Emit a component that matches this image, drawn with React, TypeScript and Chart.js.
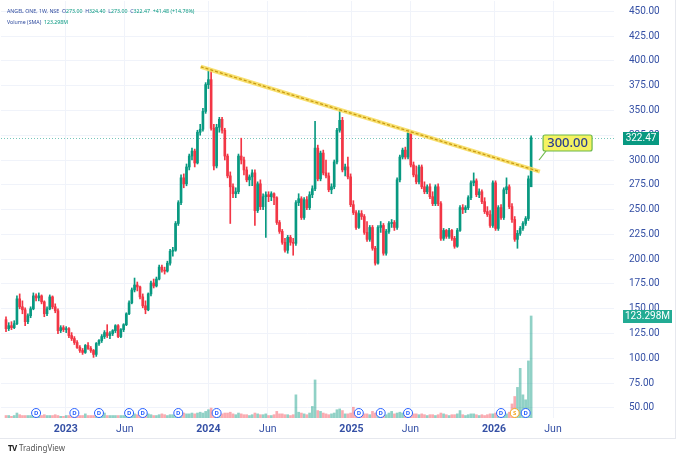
import React, { useEffect, useRef } from "react";
import { Chart, registerables } from "chart.js";

Chart.register(...registerables);

// Weekly candles [open, high, low, close], week 0 = 1 Aug 2022
const candles2022 = [
  [139, 142, 127, 130], [130, 136, 128, 133], [133, 137, 129, 131], [131, 138, 130, 135],
  [135, 163, 134, 160], [160, 165, 150, 152], [152, 158, 145, 149], [149, 151, 133, 137],
  [137, 145, 135, 143], [143, 152, 141, 150], [150, 166, 149, 163], [163, 165, 158, 161],
  [161, 166, 158, 163], [163, 164, 155, 157], [157, 158, 142, 145], [145, 152, 143, 150],
  [150, 164, 149, 162], [162, 163, 150, 152], [152, 155, 146, 148], [148, 150, 125, 128],
  [128, 133, 126, 131], [131, 133, 127, 129],
];
const candles2023 = [
  [129, 132, 126, 130], [130, 131, 121, 123], [123, 126, 118, 120], [120, 122, 114, 116],
  [116, 118, 110, 111], [111, 113, 106, 108], [108, 110, 104, 106], [106, 114, 105, 113],
  [113, 116, 109, 110], [110, 112, 106, 108], [108, 109, 101, 104], [104, 116, 102, 115],
  [115, 119, 113, 118], [118, 124, 116, 122], [122, 128, 120, 126], [126, 134, 121, 123],
  [123, 127, 120, 125], [125, 129, 123, 128], [128, 134, 126, 133], [133, 134, 121, 122],
  [122, 130, 121, 129], [129, 135, 127, 134], [134, 146, 133, 145], [145, 158, 144, 156],
  [156, 171, 155, 169], [169, 181, 167, 174], [174, 177, 168, 172], [172, 173, 160, 162],
  [162, 165, 151, 153], [153, 158, 145, 149], [149, 166, 148, 165], [165, 178, 163, 176],
  [176, 180, 171, 173], [173, 182, 172, 180], [180, 194, 179, 192], [192, 194, 187, 189],
  [189, 192, 185, 188], [188, 198, 187, 196], [196, 210, 194, 208], [208, 212, 203, 209],
  [209, 238, 208, 236], [236, 259, 234, 257], [257, 285, 255, 282], [282, 286, 272, 276],
  [276, 296, 274, 293], [293, 306, 290, 304], [304, 312, 300, 309], [309, 311, 293, 297],
  [297, 330, 296, 328], [328, 336, 325, 331], [331, 352, 329, 349], [349, 378, 347, 376],
];
const candles2024 = [
  [376, 390, 372, 381], [381, 390, 330, 332], [332, 336, 290, 294], [294, 336, 292, 333],
  [333, 343, 328, 341], [341, 343, 327, 330], [330, 332, 300, 304], [304, 306, 282, 284],
  [284, 288, 236, 273], [273, 276, 262, 266], [266, 272, 262, 268], [268, 306, 266, 304],
  [304, 322, 296, 300], [300, 303, 285, 290], [290, 293, 278, 280], [280, 285, 274, 283],
  [283, 290, 274, 287], [287, 290, 234, 249], [249, 278, 247, 276], [276, 280, 250, 253],
  [253, 266, 250, 263], [263, 268, 222, 265], [265, 268, 258, 263], [263, 268, 259, 266],
  [266, 267, 255, 262], [262, 263, 235, 237], [237, 239, 226, 228], [228, 230, 215, 217],
  [217, 221, 207, 209], [209, 224, 206, 222], [222, 224, 214, 217], [217, 221, 204, 216],
  [216, 259, 214, 257], [257, 266, 254, 261], [261, 263, 240, 242], [242, 262, 240, 260],
  [260, 263, 250, 252], [252, 268, 250, 265], [265, 274, 262, 271], [271, 339, 269, 312],
  [312, 315, 279, 281], [281, 309, 279, 307], [307, 310, 285, 287], [287, 300, 282, 284],
  [284, 287, 268, 270], [270, 276, 266, 273], [273, 300, 271, 298], [298, 332, 296, 330],
  [330, 351, 328, 340], [340, 343, 288, 290], [290, 296, 284, 293], [293, 303, 281, 283],
];
const candles2025 = [
  [283, 286, 253, 255], [255, 259, 245, 247], [247, 249, 230, 232], [232, 249, 231, 246],
  [246, 249, 240, 243], [243, 245, 225, 227], [227, 238, 218, 220], [220, 234, 218, 232],
  [232, 234, 209, 211], [211, 213, 194, 196], [196, 234, 195, 232], [232, 238, 227, 234],
  [234, 236, 204, 206], [206, 230, 204, 228], [228, 238, 226, 236], [236, 240, 232, 237],
  [237, 239, 229, 232], [232, 282, 230, 280], [280, 305, 278, 303], [303, 312, 301, 310],
  [310, 313, 301, 303], [303, 331, 301, 327], [327, 329, 293, 295], [295, 298, 283, 285],
  [285, 294, 276, 278], [278, 295, 276, 293], [293, 295, 271, 273], [273, 278, 266, 268],
  [268, 275, 266, 273], [273, 276, 261, 263], [263, 268, 254, 256], [256, 275, 254, 273],
  [273, 276, 254, 256], [256, 258, 219, 221], [221, 231, 219, 229], [229, 230, 221, 223],
  [223, 231, 221, 229], [229, 230, 219, 221], [221, 223, 211, 213], [213, 231, 212, 229],
  [229, 254, 228, 252], [252, 255, 246, 250], [250, 254, 247, 252], [252, 264, 250, 262],
  [262, 279, 260, 277], [277, 287, 274, 279], [279, 281, 263, 265], [265, 271, 262, 268],
  [268, 270, 256, 258], [258, 262, 246, 248], [248, 253, 243, 245], [245, 249, 232, 234],
];
const candles2026 = [
  [234, 279, 232, 277], [277, 279, 229, 231], [231, 254, 229, 252], [252, 255, 240, 242],
  [242, 272, 240, 270], [270, 282, 266, 273], [273, 275, 251, 253], [253, 256, 237, 240],
  [240, 243, 218, 220], [220, 229, 211, 226], [226, 233, 224, 231], [231, 238, 229, 236],
  [236, 243, 234, 241], [241, 284, 239, 281], [273, 324.4, 273, 322.47],
];

// Weekly volume, millions
const volumes2022 = [3, 3, 2, 3, 6, 4, 3, 3, 3, 3, 4, 3, 3, 3, 4, 3, 3, 3, 4, 3, 2, 2];
const volumes2023 = [
  3, 3, 3, 3, 3, 3, 3, 5, 3, 3, 3, 3, 3, 3, 6, 3, 3, 3, 3, 3, 3, 3, 4, 5, 6, 5,
  4, 4, 3, 4, 5, 4, 3, 3, 4, 5, 4, 3, 4, 4, 5, 6, 7, 6, 5, 5, 6, 5, 6, 7, 6, 8,
];
const volumes2024 = [
  10, 12, 8, 7, 5, 5, 6, 6, 7, 5, 4, 6, 5, 4, 4, 3, 4, 6, 5, 4, 4, 5, 3, 3, 4, 8,
  5, 5, 4, 4, 3, 4, 28, 7, 6, 5, 4, 6, 14, 46, 9, 8, 6, 5, 4, 5, 6, 10, 11, 9, 5, 5,
];
const volumes2025 = [
  6, 13, 7, 5, 4, 5, 5, 4, 8, 6, 5, 8, 5, 4, 6, 8, 5, 6, 7, 6, 5, 7, 6, 5, 5, 4,
  5, 4, 3, 4, 4, 3, 4, 6, 5, 4, 3, 4, 4, 5, 9, 4, 3, 4, 5, 5, 4, 3, 4, 3, 4, 5,
];
const volumes2026 = [5, 6, 4, 4, 4, 5, 7, 17, 26, 37, 60, 28, 22, 69, 123.298];

const priceTicks = [50, 75, 100, 125, 150, 175, 200, 225, 250, 275, 300, 325, 350, 375, 400, 425, 450];
const timeTickWeeks = [21.86, 43.43, 74.0, 95.71, 126.29, 147.86, 178.43, 200.0];
const timeTickLabels = ["2023", "Jun", "2024", "Jun", "2025", "Jun", "2026", "Jun"];
const dividendWeeks = [11, 25, 34, 45, 50, 63, 77, 129, 137, 147, 181, 190];
const splitWeeks = [186];
const trendWeeks = [71.2, 195.2];
const trendPrices = [394, 288.2];
const calloutWeek = 194.9;
const calloutPrice = 300;
const calloutText = "300.00";
const lastPrice = 322.47;
const lastVolume = 123.298;

const GREEN = "#089981";
const RED = "#f23645";
const AXIS_BLUE = "#3550a5";

export default function App() {
  const ref = useRef<HTMLCanvasElement | null>(null);

  useEffect(() => {
    const candles = [...candles2022, ...candles2023, ...candles2024, ...candles2025, ...candles2026];
    const volumes = [...volumes2022, ...volumes2023, ...volumes2024, ...volumes2025, ...volumes2026];
    const up = candles.map((c) => c[3] >= c[0]);
    const candleColors = up.map((u) => (u ? GREEN : RED));
    const volColors = up.map((u) => (u ? "rgba(8,153,129,0.45)" : "rgba(242,54,69,0.42)"));

    const overlay = {
      id: "overlay",
      beforeDatasetsDraw(chart: any) {
        const { ctx, chartArea, scales } = chart;
        const y = scales.y.getPixelForValue(lastPrice);
        ctx.save();
        ctx.strokeStyle = "rgba(8,153,129,0.55)";
        ctx.lineWidth = 1;
        ctx.setLineDash([1, 2]);
        ctx.beginPath();
        ctx.moveTo(chartArea.left, Math.round(y) + 0.5);
        ctx.lineTo(chartArea.right, Math.round(y) + 0.5);
        ctx.stroke();
        ctx.restore();
      },
      afterDatasetsDraw(chart: any) {
        const { ctx, chartArea, scales } = chart;
        const cy = chartArea.bottom - 5;
        const drawMark = (w: number, letter: string, color: string) => {
          const cx = scales.x.getPixelForValue(w);
          ctx.beginPath();
          ctx.arc(cx, cy, 4.5, 0, Math.PI * 2);
          ctx.fillStyle = "#ffffff";
          ctx.fill();
          ctx.lineWidth = 1;
          ctx.strokeStyle = color;
          ctx.stroke();
          ctx.fillStyle = color;
          ctx.font = "bold 6px 'Noto Sans'";
          ctx.textAlign = "center";
          ctx.textBaseline = "middle";
          ctx.fillText(letter, cx, cy + 0.5);
        };
        ctx.save();
        dividendWeeks.forEach((w) => drawMark(w, "D", "#2962ff"));
        splitWeeks.forEach((w) => drawMark(w, "S", "#f5a623"));

        // callout
        const tx = scales.x.getPixelForValue(calloutWeek);
        const ty = scales.y.getPixelForValue(calloutPrice);
        const bx = tx + 4;
        const by = ty - 25;
        const bw = 49;
        const bh = 16;
        ctx.strokeStyle = "#6cb84a";
        ctx.lineWidth = 1.2;
        ctx.beginPath();
        ctx.moveTo(bx + 3, by + bh);
        ctx.lineTo(tx, ty);
        ctx.stroke();
        ctx.fillStyle = "#f5f261";
        ctx.beginPath();
        ctx.roundRect(bx, by, bw, bh, 2);
        ctx.fill();
        ctx.stroke();
        ctx.fillStyle = "#2d3f8e";
        ctx.font = "500 13px 'Noto Sans'";
        ctx.textAlign = "center";
        ctx.textBaseline = "middle";
        ctx.fillText(calloutText, bx + bw / 2, by + bh / 2 + 0.5);
        ctx.restore();
      },
      afterDraw(chart: any) {
        const { ctx, chartArea, scales } = chart;
        const x0 = chartArea.right + 9;
        ctx.save();
        ctx.font = "10px Roboto";
        ctx.textBaseline = "middle";
        ctx.textAlign = "center";
        const yp = scales.y.getPixelForValue(lastPrice);
        ctx.fillStyle = GREEN;
        ctx.fillRect(x0, Math.round(yp) - 6, 36, 13);
        ctx.fillStyle = "#ffffff";
        ctx.fillText(lastPrice.toFixed(2), x0 + 18, Math.round(yp) + 0.5);
        const yv = scales.yVol.getPixelForValue(lastVolume);
        ctx.fillStyle = "#22ab94";
        ctx.fillRect(x0, Math.round(yv) - 6, 49, 13);
        ctx.fillStyle = "#ffffff";
        ctx.fillText(lastVolume.toFixed(3) + "M", x0 + 24.5, Math.round(yv) + 0.5);
        ctx.restore();
      },
    };

    const chart = new Chart(ref.current as HTMLCanvasElement, {
      type: "bar",
      data: {
        datasets: [
          {
            type: "line",
            data: trendWeeks.map((w, i) => ({ x: w, y: trendPrices[i] })),
            borderColor: "#c99a12",
            borderWidth: 1.3,
            borderDash: [3, 2],
            pointRadius: 0,
            order: 0,
            yAxisID: "y",
          },
          {
            type: "line",
            data: trendWeeks.map((w, i) => ({ x: w, y: trendPrices[i] })),
            borderColor: "rgba(247,221,95,0.9)",
            borderWidth: 4,
            pointRadius: 0,
            order: 1,
            yAxisID: "y",
          },
          {
            data: candles.map((c, i) => ({ x: i, y: [c[0], c[3]] })),
            backgroundColor: candleColors,
            barThickness: 2,
            minBarLength: 1,
            grouped: false,
            order: 2,
            yAxisID: "y",
          },
          {
            data: candles.map((c, i) => ({ x: i, y: [c[2], c[1]] })),
            backgroundColor: candleColors,
            barThickness: 1,
            grouped: false,
            order: 3,
            yAxisID: "y",
          },
          {
            data: volumes.map((v, i) => ({ x: i, y: v })),
            backgroundColor: volColors,
            barThickness: 2,
            grouped: false,
            order: 5,
            yAxisID: "yVol",
          },
        ] as any,
      },
      options: {
        animation: false,
        responsive: false,
        maintainAspectRatio: false,
        layout: { padding: { left: 1, top: 1, right: 0, bottom: 17 } },
        plugins: { legend: { display: false }, tooltip: { enabled: false } },
        scales: {
          x: {
            type: "linear",
            min: -1.83,
            max: 222.3,
            offset: false,
            grid: { color: "#f0f3fa", drawTicks: false, offset: false },
            border: { display: false },
            afterBuildTicks: (s: any) => {
              s.ticks = timeTickWeeks.map((v) => ({ value: v }));
            },
            afterFit: (s: any) => {
              s.height = 20;
              s.paddingLeft = 0;
              s.paddingRight = 0;
            },
            ticks: {
              padding: 5,
              autoSkip: false,
              maxRotation: 0,
              color: AXIS_BLUE,
              font: (c: any) => ({
                family: "Roboto",
                size: 10.5,
                weight: timeTickLabels[c.index] === "Jun" ? "normal" : "bold",
              }),
              callback: (_v: any, i: number) => timeTickLabels[i],
            },
          },
          y: {
            position: "right",
            min: 39.9,
            max: 460.3,
            grid: { color: "#f0f3fa", drawTicks: false },
            border: { display: false },
            afterBuildTicks: (s: any) => {
              s.ticks = priceTicks.map((v) => ({ value: v }));
            },
            afterFit: (s: any) => {
              s.width = 66;
              s.paddingTop = 0;
              s.paddingBottom = 0;
            },
            ticks: {
              padding: 15,
              color: AXIS_BLUE,
              font: { family: "Roboto", size: 10 },
              callback: (v: any) => Number(v).toFixed(2),
            },
          },
          yVol: { display: false, min: 0, max: 504 },
        },
      } as any,
      plugins: [overlay],
    });
    return () => chart.destroy();
  }, []);

  const blue = "#2e4a9e";
  return (
    <div style={{ position: "fixed", left: 0, top: 0, width: 680, height: 455, background: "#fff", overflow: "hidden" }}>
      <div
        style={{
          position: "absolute",
          left: 0,
          top: 0,
          width: 675,
          height: 438,
          borderRight: "1px solid #e6e8ee",
          borderBottom: "1px solid #e6e8ee",
        }}
      />
      <canvas ref={ref} width={680} height={455} style={{ position: "absolute", left: 0, top: 0, width: 680, height: 455 }} />
      <div
        style={{
          position: "absolute",
          left: 7,
          top: 6,
          fontFamily: "'Noto Sans', sans-serif",
          fontSize: 6,
          lineHeight: "12px",
          whiteSpace: "nowrap",
          color: blue,
          transform: "scale(0.875)",
          transformOrigin: "0 0",
        }}
      >
        <div>
          ANGEL ONE, 1W, NSE&nbsp;&nbsp;O<span style={{ color: GREEN }}>273.00</span>&nbsp;&nbsp;H
          <span style={{ color: GREEN }}>324.40</span>&nbsp;&nbsp;L<span style={{ color: GREEN }}>273.00</span>&nbsp;&nbsp;C
          <span style={{ color: GREEN }}>322.47</span>&nbsp;&nbsp;<span style={{ color: GREEN }}>+41.48 (+14.76%)</span>
        </div>
        <div>
          Volume (SMA)&nbsp;&nbsp;<span style={{ color: GREEN }}>123.298M</span>
        </div>
      </div>
      <div
        style={{
          position: "absolute",
          left: 8,
          top: 442,
          fontFamily: "'Noto Sans', sans-serif",
          fontSize: 8,
          color: "#555",
          whiteSpace: "nowrap",
        }}
      >
        <b style={{ color: "#222", letterSpacing: -0.5 }}>TV</b> TradingView
      </div>
    </div>
  );
}
